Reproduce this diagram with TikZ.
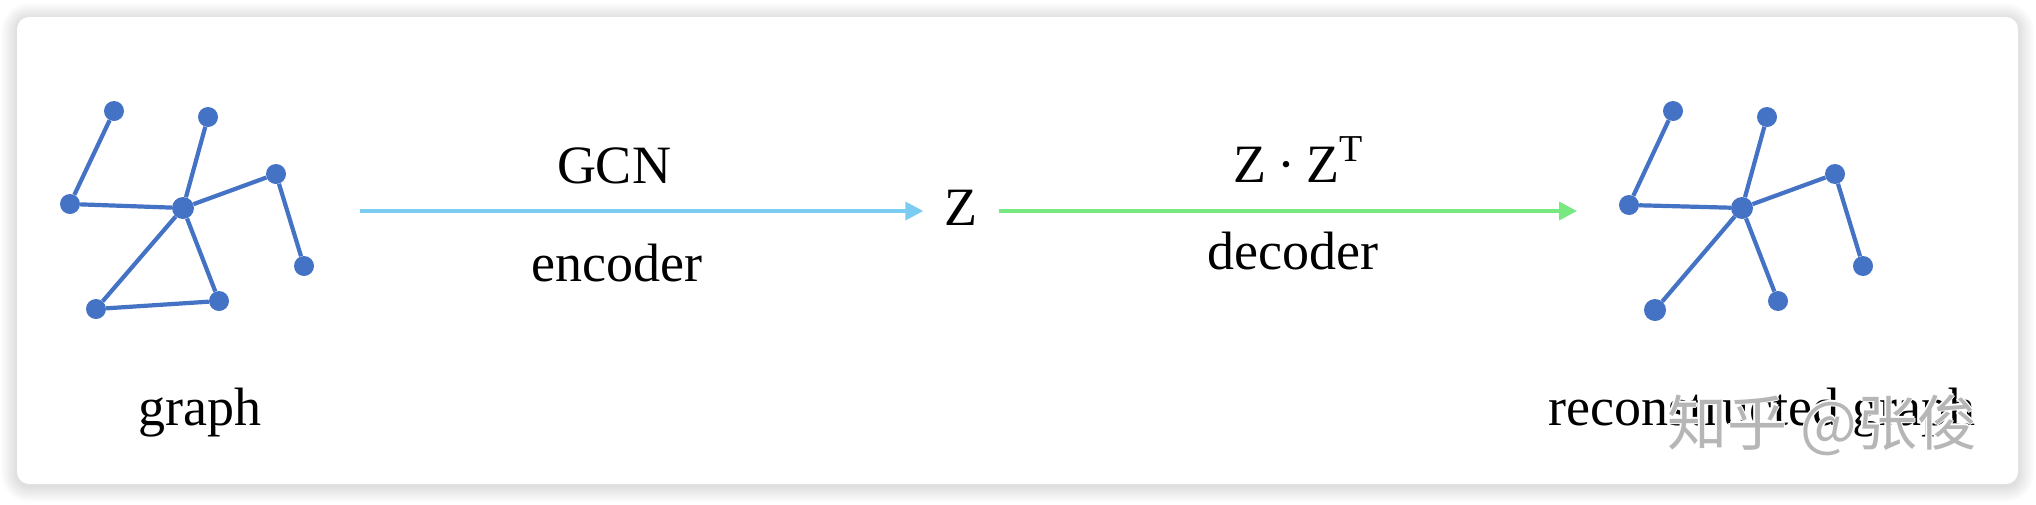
\documentclass[tikz,border=0pt]{standalone}
\usepackage{fontspec}
\setmainfont{Liberation Serif}
\newfontfamily\cjk{Noto Sans CJK SC}
\usetikzlibrary{arrows.meta}
\definecolor{nodeblue}{RGB}{68,114,196}
\definecolor{encblue}{RGB}{122,204,240}
\definecolor{decgreen}{RGB}{120,232,128}
\definecolor{wmgray}{RGB}{182,182,182}
\begin{document}
\begin{tikzpicture}[x=1pt,y=-1pt,
  vtx/.style={circle,fill=nodeblue,inner sep=0pt,minimum size=20pt},
  bigvtx/.style={vtx,minimum size=22pt},
  edge/.style={draw=nodeblue,line width=4.2pt},
  lbl/.style={font=\fontsize{54}{60}\selectfont,inner sep=0pt,anchor=base},
  flow/.style={line width=3.5pt,-{Triangle[length=18pt,width=18pt]}},
  wm/.style={font=\cjk\fontsize{60}{66}\selectfont,inner sep=0pt,anchor=base west},
]
\useasboundingbox (0,0) rectangle (2036,504);
\fill[white] (0,0) rectangle (2036,504);
% card shadow
\foreach \i in {1,...,16}{
  \pgfmathsetmacro\rr{12+\i}
  \fill[black,opacity=0.0075,rounded corners=\rr pt] (17-\i,17-\i+2) rectangle (2018+\i,484+\i+2);
}
\fill[white,rounded corners=12pt] (17,17) rectangle (2018,484);

% left graph
\node[vtx] (la) at (114,111) {};
\node[vtx] (lb) at (208,117) {};
\node[vtx] (lc) at (276,174) {};
\node[bigvtx] (lo) at (183,208) {};
\node[vtx] (ld) at (70,204) {};
\node[vtx] (le) at (304,266) {};
\node[vtx] (lf) at (219,301) {};
\node[vtx] (lg) at (96,309) {};
\draw[edge] (la) -- (ld);
\draw[edge] (ld) -- (lo);
\draw[edge] (lo) -- (lb);
\draw[edge] (lo) -- (lc);
\draw[edge] (lc) -- (le);
\draw[edge] (lo) -- (lf);
\draw[edge] (lo) -- (lg);
\draw[edge] (lg) -- (lf);

% right graph
\node[vtx] (ra) at (1673,111) {};
\node[vtx] (rb) at (1767,117) {};
\node[vtx] (rc) at (1835,174) {};
\node[bigvtx] (ro) at (1742,208) {};
\node[vtx] (rd) at (1629,205) {};
\node[vtx] (re) at (1863,266) {};
\node[vtx] (rf) at (1778,301) {};
\node[bigvtx] (rg) at (1655,310) {};
\draw[edge] (ra) -- (rd);
\draw[edge] (rd) -- (ro);
\draw[edge] (ro) -- (rb);
\draw[edge] (ro) -- (rc);
\draw[edge] (rc) -- (re);
\draw[edge] (ro) -- (rf);
\draw[edge] (ro) -- (rg);

% labels
\node[lbl] (glabel) at (200,425) {graph};
\node[lbl] (rlabel) at (1762,425) {reconstructed graph};
\node[lbl] (gcn) at (614,183) {GCN};
\node[lbl] (enc) at (617,281) {encoder};
\node[lbl] (zzt) at (1298,182) {Z\hspace{0.2em}·\hspace{0.2em}Z\raisebox{21pt}{\fontsize{38}{40}\selectfont T}};
\node[lbl] (dec) at (1293,269) {decoder};
\node[font=\fontsize{54}{60}\selectfont,inner ysep=0pt,inner xsep=21pt] (z) at (961,208) {Z};

% arrows
\coordinate (encstart) at (360,211);
\coordinate (decend) at (1577,211);
\draw[flow,encblue] (encstart) -- (encstart -| z.west);
\draw[flow,decgreen] (z.east |- encstart) -- (decend);

% watermark with thin white halo
\foreach \dx/\dy in {-1.5/0,1.5/0,0/-1.5,0/1.5}{
  \node[wm,white] at (1667+\dx,445+\dy) {知乎 @张俊};
}
\node[wm,wmgray] (wmark) at (1667,445) {知乎 @张俊};
\end{tikzpicture}
\end{document}
